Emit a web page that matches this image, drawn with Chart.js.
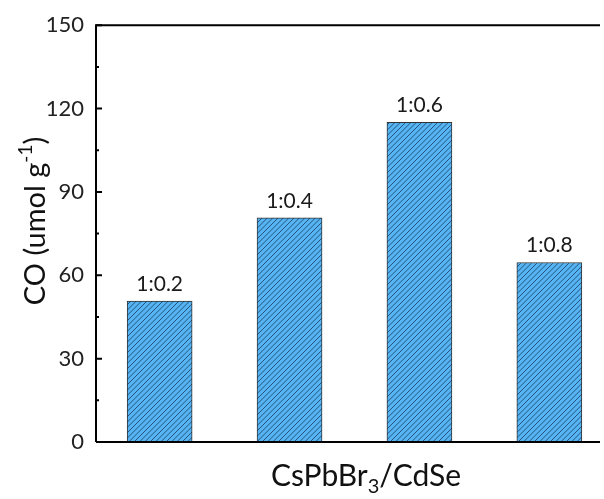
<!DOCTYPE html>
<html>
<head>
<meta charset="utf-8">
<script src="https://cdn.jsdelivr.net/npm/chart.js@4"></script>
<style>
  html, body { margin: 0; padding: 0; background: #fff; }
  #wrap { width: 604px; height: 499px; }
</style>
</head>
<body>
<div id="wrap"><canvas id="coChart" width="604" height="499"></canvas></div>
<script>
// data
const categories = ['1:0.2', '1:0.4', '1:0.6', '1:0.8'];
const coValues = [50.7, 80.7, 115.0, 64.6];
const yTicks = [0, 30, 60, 90, 120, 150];
const yMinorTicks = [15, 45, 75, 105, 135];
const xTitleMain = 'CsPbBr';
const xTitleSub = '3';
const xTitleEnd = '/CdSe';
const yTitleMain = 'CO (umol g';
const yTitleSup = '-1';
const yTitleEnd = ')';

const FONT = 'Lato';

// diagonal hatch fill for the bars (3 lines per 16px tile)
function makeHatch() {
    const s = 16;
    const c = document.createElement('canvas');
    c.width = s; c.height = s;
    const g = c.getContext('2d');
    g.fillStyle = '#55b5f3';
    g.fillRect(0, 0, s, s);
    g.strokeStyle = '#22406c';
    g.lineWidth = 0.85;
    g.beginPath();
    for (let k = -3; k <= 6; k++) {
        const off = k * s / 3;
        g.moveTo(off - s, 2 * s); g.lineTo(off + s, 0);
    }
    g.stroke();
    return g.createPattern(c, 'repeat');
}

const ctx = document.getElementById('coChart').getContext('2d');

const decorPlugin = {
    id: 'decor',
    afterDatasetsDraw(chart) {
        const c = chart.ctx;
        const area = chart.chartArea;
        const y = chart.scales.y;
        c.save();

        // frame: left, top, bottom
        c.strokeStyle = '#000';
        c.lineWidth = 2;
        c.beginPath();
        c.moveTo(area.left, area.bottom);
        c.lineTo(area.left, area.top);
        c.lineTo(area.right, area.top);
        c.moveTo(area.left, area.bottom);
        c.lineTo(area.right, area.bottom);
        c.stroke();

        // inward ticks on the y axis
        c.beginPath();
        for (const t of yTicks) {
            const py = y.getPixelForValue(t);
            c.moveTo(area.left, py); c.lineTo(area.left + 6, py);
        }
        for (const t of yMinorTicks) {
            const py = y.getPixelForValue(t);
            c.moveTo(area.left, py); c.lineTo(area.left + 3, py);
        }
        c.stroke();

        // ratio labels above the bars
        const meta = chart.getDatasetMeta(0);
        c.fillStyle = '#1a1a1a';
        c.font = '21px ' + FONT;
        c.textAlign = 'center';
        c.textBaseline = 'alphabetic';
        meta.data.forEach((bar, i) => {
            c.fillText(categories[i], bar.x, bar.y - 10);
        });

        // x title with subscript
        c.fillStyle = '#111';
        c.textAlign = 'left';
        const big = 30, small = 20;
        c.font = big + 'px ' + FONT;
        const w1 = c.measureText(xTitleMain).width;
        const w3 = c.measureText(xTitleEnd).width;
        c.font = small + 'px ' + FONT;
        const w2 = c.measureText(xTitleSub).width;
        const xStart = 366 - (w1 + w2 + w3) / 2;
        const xBase = 486;
        c.font = big + 'px ' + FONT;
        c.fillText(xTitleMain, xStart, xBase);
        c.font = small + 'px ' + FONT;
        c.fillText(xTitleSub, xStart + w1, xBase + 7);
        c.font = big + 'px ' + FONT;
        c.fillText(xTitleEnd, xStart + w1 + w2, xBase);

        // y title with superscript, rotated
        const yb = 29, ys = 19;
        c.translate(45, 221);
        c.rotate(-Math.PI / 2);
        c.font = yb + 'px ' + FONT;
        const v1 = c.measureText(yTitleMain).width;
        const v3 = c.measureText(yTitleEnd).width;
        c.font = ys + 'px ' + FONT;
        const v2 = c.measureText(yTitleSup).width;
        const yStart = -(v1 + v2 + v3) / 2;
        c.font = yb + 'px ' + FONT;
        c.fillText(yTitleMain, yStart, 0);
        c.font = ys + 'px ' + FONT;
        c.fillText(yTitleSup, yStart + v1, -13);
        c.font = yb + 'px ' + FONT;
        c.fillText(yTitleEnd, yStart + v1 + v2, 0);

        c.restore();
    }
};

new Chart(ctx, {
    type: 'bar',
    data: {
        datasets: [{
            label: 'CO',
            data: coValues.map((v, i) => ({ x: i + 1, y: v })),
            backgroundColor: makeHatch(),
            borderColor: '#333',
            borderWidth: 1,
            barThickness: 65
        }]
    },
    options: {
        responsive: false,
        animation: false,
        layout: { padding: { top: 22, right: 4, left: 0, bottom: 0 } },
        plugins: {
            legend: { display: false },
            tooltip: { enabled: false }
        },
        scales: {
            x: {
                type: 'linear',
                offset: false,
                min: 0.51,
                max: 4.39,
                grid: { display: false, drawTicks: false },
                border: { display: false },
                ticks: { display: false },
                afterFit(scale) { scale.height = 57; }
            },
            y: {
                min: 0,
                max: 150,
                grid: { display: false, drawTicks: false },
                border: { display: false },
                afterBuildTicks(scale) { scale.ticks = yTicks.map(v => ({ value: v })); },
                ticks: {
                    padding: 12,
                    color: '#222',
                    font: { family: FONT, size: 22 }
                },
                afterFit(scale) { scale.width = 96; }
            }
        }
    },
    plugins: [decorPlugin]
});
</script>
</body>
</html>
